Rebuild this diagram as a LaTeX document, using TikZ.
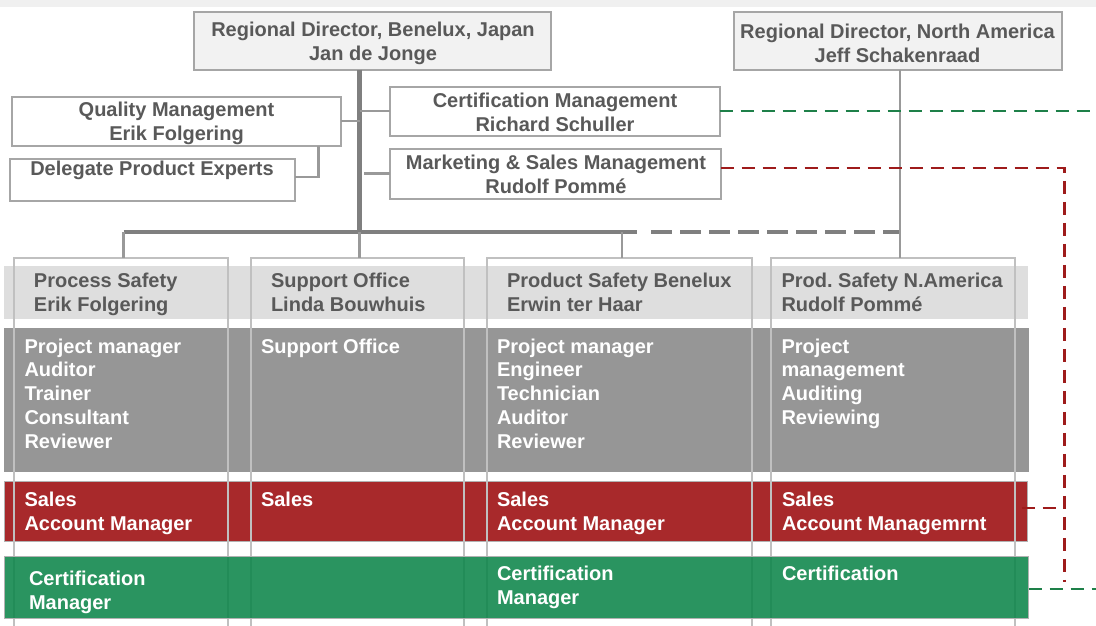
\documentclass[tikz,border=0pt]{standalone}
\usepackage{fontspec}
\setmainfont{Liberation Sans}
\definecolor{txt}{HTML}{595959}
\definecolor{bord}{HTML}{A6A6A6}
\definecolor{rdfill}{HTML}{F2F2F2}
\definecolor{hdr}{HTML}{DEDEDE}
\definecolor{darkband}{HTML}{969696}
\definecolor{redband}{HTML}{A8292B}
\definecolor{greenbase}{RGB}{13,133,74}
\definecolor{reddash}{HTML}{9E1B1B}
\definecolor{greendash}{HTML}{1E8049}
\definecolor{trunkgray}{HTML}{7F7F7F}
\definecolor{thingray}{HTML}{999999}
\definecolor{colline}{HTML}{C0C0C0}
\definecolor{topshade}{HTML}{F0F0F0}
\frenchspacing
\tikzset{
  bigfont/.style={font=\bfseries\fontsize{20}{23.8}\selectfont},
  orgbox/.style={draw=bord, line width=2pt, fill=white, bigfont, text=txt, align=center},
  rdbox/.style={orgbox, fill=rdfill},
  boxtxt/.style={bigfont, text=txt, align=center},
  hdrtxt/.style={anchor=north west, align=left, bigfont, text=txt},
  wtxt/.style={anchor=north west, align=left, bigfont, text=white},
  colbox/.style={draw=colline, line width=2pt},
  trunkline/.style={draw=trunkgray, line width=4.5pt},
  barline/.style={draw=trunkgray, line width=4pt},
  thinline/.style={draw=thingray, line width=2.5pt},
  reddashed/.style={draw=reddash, line width=2.7pt, dash pattern=on 13pt off 8pt},
  greendashed/.style={draw=greendash, line width=2.5pt, dash pattern=on 13pt off 8pt},
}
\begin{document}
\begin{tikzpicture}[x=1pt,y=-1pt, every node/.style={inner sep=0pt, outer sep=0pt}]
\useasboundingbox (0,0) rectangle (1096,625);
\clip (0,0) rectangle (1096,625);
\fill[topshade] (0,0) rectangle (1096,7);

% bands
\node[fill=hdr, minimum width=1023.5pt, minimum height=53pt] (hband) at (515.75,292.5) {};
\node[fill=darkband, minimum width=1025pt, minimum height=144pt] (dband) at (516.5,400) {};
\node[fill=redband, draw=gray!60, line width=0.8pt, minimum width=1023.6pt, minimum height=60pt] (rband) at (515.8,511) {};

% columns
\node[colbox, minimum width=214pt, minimum height=382.5pt] (c1) at (121,448.75) {};
\node[colbox, minimum width=213pt, minimum height=382.5pt] (c2) at (357.5,448.75) {};
\node[colbox, minimum width=265pt, minimum height=382.5pt] (c3) at (619.5,448.75) {};
\node[colbox, minimum width=244pt, minimum height=382.5pt] (c4) at (893,448.75) {};

% green band (semi-transparent over the column lines)
\node[fill=greenbase, fill opacity=0.88, draw=gray!60, line width=0.8pt, minimum width=1024.6pt, minimum height=62pt] (gband) at (516.3,587) {};

% top boxes
\node[rdbox, minimum width=357pt, minimum height=58pt] (rdb) at (372,40.5) {};
\node[boxtxt] (rdbt) at (373,43) {Regional Director, Benelux, Japan\\Jan de Jonge};
\node[rdbox, minimum width=328pt, minimum height=58pt] (rdn) at (897.5,40.5) {};
\node[boxtxt] (rdnt) at (897.5,43) {Regional Director, North America\\Jeff Schakenraad};
\node[orgbox, minimum width=329pt, minimum height=49pt] (qm) at (176,121) {};
\node[boxtxt] (qmt) at (176.5,123.5) {Quality Management\\Erik Folgering};
\node[orgbox, minimum width=285pt, minimum height=42pt] (dpe) at (152,179.5) {};
\node[boxtxt] (dpet) at (152,170.5) {Delegate Product Experts};
\node[orgbox, minimum width=330pt, minimum height=49pt] (cm) at (554.5,111) {};
\node[boxtxt] (cmt) at (555,112) {Certification Management\\Richard Schuller};
\node[orgbox, minimum width=331pt, minimum height=50pt] (ms) at (555,173.5) {};
\node[boxtxt] (mst) at (556,174) {Marketing \& Sales Management\\Rudolf Pommé};

% coordinates of the structure
\coordinate (b1) at (123.5,232);
\coordinate (b2) at (359.5,232);
\coordinate (b3) at (622,232);
\coordinate (bs) at (637,232);
\coordinate (bd) at (651,232);
\coordinate (b4) at (900,232);
\coordinate (qd) at (318.5,177);
\coordinate (rA) at (1064.6,168);
\coordinate (rB) at (1064.6,582);
\coordinate (rT) at (1064.6,508);
\coordinate (gA) at (1100,111);
\coordinate (gB) at (1100,589);

% connectors
\draw[trunkline] (b2 |- rdb.south) -- (b2);
\draw[barline] (b1) -- (bs);
\draw[barline, dash pattern=on 21pt off 8pt] (bd) -- (b4);
\draw[thinline] (b1) -- (b1 |- c1.north);
\draw[thinline] (b2) -- (b2 |- c2.north);
\draw[thinline] (b3) -- (b3 |- c3.north);
\draw[thinline] (b4 |- rdn.south) -- (b4 |- c4.north);
\draw[thinline] (qm.east) -- (qm.east -| b2);
\draw[thinline] (b2 |- cm.west) -- (cm.west);
\draw[thinline] ([xshift=4.5pt]b2 |- ms.west) -- (ms.west);
\draw[thinline] (qd |- qm.south) -- (qd) -- (qd -| dpe.east);
\draw[reddashed] (rA -| ms.east) -- (rA) -- (rB);
\draw[reddashed] ([xshift=-6pt]rT -| rband.east) -- (rT);
\draw[greendashed] (gA -| cm.east) -- (gA);
\draw[greendashed] (gB -| gband.east) -- (gB);

% header texts
\node[hdrtxt] (h1) at (34,273) {Process Safety\\Erik Folgering};
\node[hdrtxt] (h2) at (271,273) {Support Office\\Linda Bouwhuis};
\node[hdrtxt] (h3) at (507,273) {Product Safety Benelux\\Erwin ter Haar};
\node[hdrtxt] (h4) at (781.5,273) {Prod.\ Safety N.America\\Rudolf Pommé};

% dark band texts
\node[wtxt] (d1) at (24.5,338.5) {Project manager\\Auditor\\Trainer\\Consultant\\Reviewer};
\node[wtxt] (d2) at (261,338.5) {Support Office};
\node[wtxt] (d3) at (497,338.5) {Project manager\\Engineer\\Technician\\Auditor\\Reviewer};
\node[wtxt] (d4) at (781.5,338.5) {Project\\management\\Auditing\\Reviewing};

% red band texts
\node[wtxt] (r1) at (24.5,492) {Sales\\Account Manager};
\node[wtxt] (r2) at (261,492) {Sales};
\node[wtxt] (r3) at (497,492) {Sales\\Account Manager};
\node[wtxt] (r4) at (782,492) {Sales\\Account Managemrnt};

% green band texts
\node[wtxt] (g1) at (29,571) {Certification\\Manager};
\node[wtxt] (g3) at (497,566) {Certification\\Manager};
\node[wtxt] (g4) at (782,566) {Certification};
\end{tikzpicture}
\end{document}
